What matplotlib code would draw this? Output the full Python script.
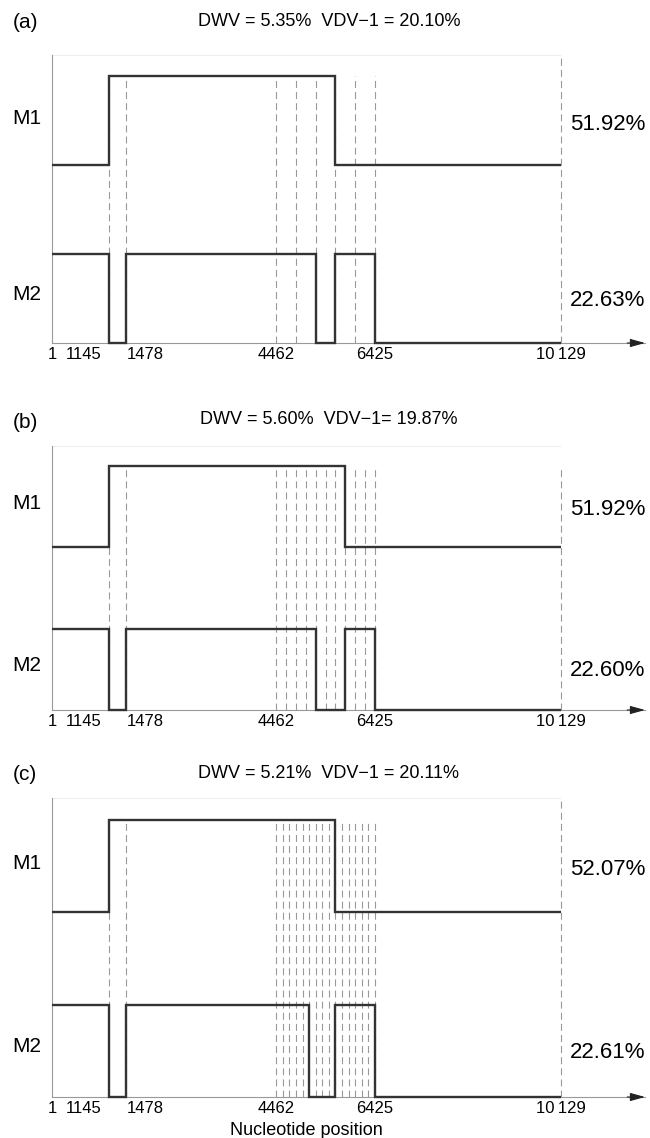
import matplotlib
matplotlib.use('Agg')
import matplotlib.pyplot as plt
from matplotlib.transforms import ScaledTranslation

plt.rcParams['font.family'] = ['Liberation Sans', 'DejaVu Sans']
plt.rcParams['lines.scale_dashes'] = False

# ---- datos ----
tick_pos = [1, 1145, 1478, 4462, 6425, 10129]
tick_labels = ['1', '1145', '1478', '4462', '6425', '10\u2009129']

tags = ['(a)', '(b)', '(c)']
titles = ['DWV = 5.35%  VDV\u22121 = 20.10%',
          'DWV = 5.60%  VDV\u22121= 19.87%',
          'DWV = 5.21%  VDV\u22121 = 20.11%']
m1_pct = ['51.92%', '51.92%', '52.07%']
m2_pct = ['22.63%', '22.60%', '22.61%']

# limites de segmentos (lineas discontinuas)
fixed_cuts = [1145, 1478]
genome_end = 10129
cuts_a = [4462, 4855, 5247, 5640, 6032, 6425]
cuts_b = [4462, 4658, 4855, 5051, 5247, 5444, 5640, 5836, 6032, 6229, 6425]
cuts_c = [4462, 4593, 4724, 4855, 4986, 5117, 5247, 5378, 5509, 5640,
          5771, 5902, 6032, 6163, 6294, 6425]

# cambios de estado de M1 y M2
m1_edges_a = [1, 1145, 5640, 10129]
m1_edges_b = [1, 1145, 5836, 10129]
m1_edges_c = [1, 1145, 5640, 10129]
m2_edges_a = [1, 1145, 1478, 5247, 5640, 6425, 10129]
m2_edges_b = [1, 1145, 1478, 5247, 5836, 6425, 10129]
m2_edges_c = [1, 1145, 1478, 5117, 5640, 6425, 10129]
m1_levels = [2, 3, 2]
m2_levels = [1, 0, 1, 0, 1, 0]

cuts = [cuts_a, cuts_b, cuts_c]
m1_edges = [m1_edges_a, m1_edges_b, m1_edges_c]
m2_edges = [m2_edges_a, m2_edges_b, m2_edges_c]

# ---- figura ----
W, H = 650, 1138
fig = plt.figure(figsize=(W / 100, H / 100), dpi=100)

boxes = [(55, 343), (446, 710), (798, 1097)]   # top, bottom en px
title_y = [21, 420, 773]
end_top = [3.24, 3.0, 3.24]   # altura de la linea final en cada panel
YTOP = 3.24
XMAX = 11800
dark = '#333333'
grey = '#999999'
dash = (0, (5, 3))

for k in range(3):
    top, bot = boxes[k]
    ax = fig.add_axes([52 / W, 1 - bot / H, (645 - 52) / W, (bot - top) / H])
    ax.set_xlim(1, XMAX)
    ax.set_ylim(0, YTOP)
    for s in ['top', 'right']:
        ax.spines[s].set_visible(False)
    ax.spines['left'].set_color(grey)
    ax.spines['left'].set_linewidth(0.8)
    ax.spines['bottom'].set_color(grey)
    ax.spines['bottom'].set_linewidth(0.8)
    ax.set_yticks([])

    ax.hlines(YTOP, 1, genome_end, color='#eeeeee', lw=0.8)

    ax.vlines(fixed_cuts + cuts[k], 0, 3, colors=grey, lw=0.8,
              linestyles=dash, zorder=1)
    ax.vlines(genome_end, 0, end_top[k], colors=grey, lw=0.8,
              linestyles=dash, zorder=1)

    ax.stairs(m1_levels, m1_edges[k], baseline=None, color=dark, lw=1.7,
              clip_on=False, zorder=3)
    ax.stairs(m2_levels, m2_edges[k], baseline=None, color=dark, lw=1.7,
              clip_on=False, zorder=3)

    ax.annotate('', xy=(1, 0), xycoords='axes fraction',
                xytext=(0.97, 0), textcoords='axes fraction',
                arrowprops=dict(arrowstyle='-|>,head_length=0.9,head_width=0.25',
                                color='#222222', lw=0.8, shrinkA=0, shrinkB=0),
                annotation_clip=False)

    ax.set_xticks(tick_pos, tick_labels, fontsize=12)
    ax.tick_params(axis='x', length=0, pad=3)
    labs = ax.get_xticklabels()
    labs[1].set_ha('right')
    labs[1].set_transform(labs[1].get_transform() +
                          ScaledTranslation(-8 / 100, 0, fig.dpi_scale_trans))
    labs[2].set_ha('left')
    labs[2].set_transform(labs[2].get_transform() +
                          ScaledTranslation(1 / 100, 0, fig.dpi_scale_trans))

    ax.text(-25 / 593, 2.53, 'M1', transform=ax.get_yaxis_transform(),
            ha='center', va='center', fontsize=15)
    ax.text(-25 / 593, 0.55, 'M2', transform=ax.get_yaxis_transform(),
            ha='center', va='center', fontsize=15)
    ax.annotate(m1_pct[k], xy=(genome_end, 2.46), xytext=(9, 0),
                textcoords='offset pixels', ha='left', va='center',
                fontsize=16, annotation_clip=False)
    ax.annotate(m2_pct[k], xy=(genome_end, 0.48), xytext=(9, 0),
                textcoords='offset pixels', ha='left', va='center',
                fontsize=16, annotation_clip=False)

    fig.text(25 / W, 1 - (title_y[k] + 2) / H, tags[k], ha='center',
             va='center', fontsize=15)
    fig.text(329 / W, 1 - title_y[k] / H, titles[k], ha='center',
             va='center', fontsize=13)

    if k == 2:
        ax.set_xlabel('Nucleotide position', fontsize=13)
        ax.xaxis.set_label_coords(5065 / XMAX, -0.085)

fig.savefig('out.png', dpi=100)
